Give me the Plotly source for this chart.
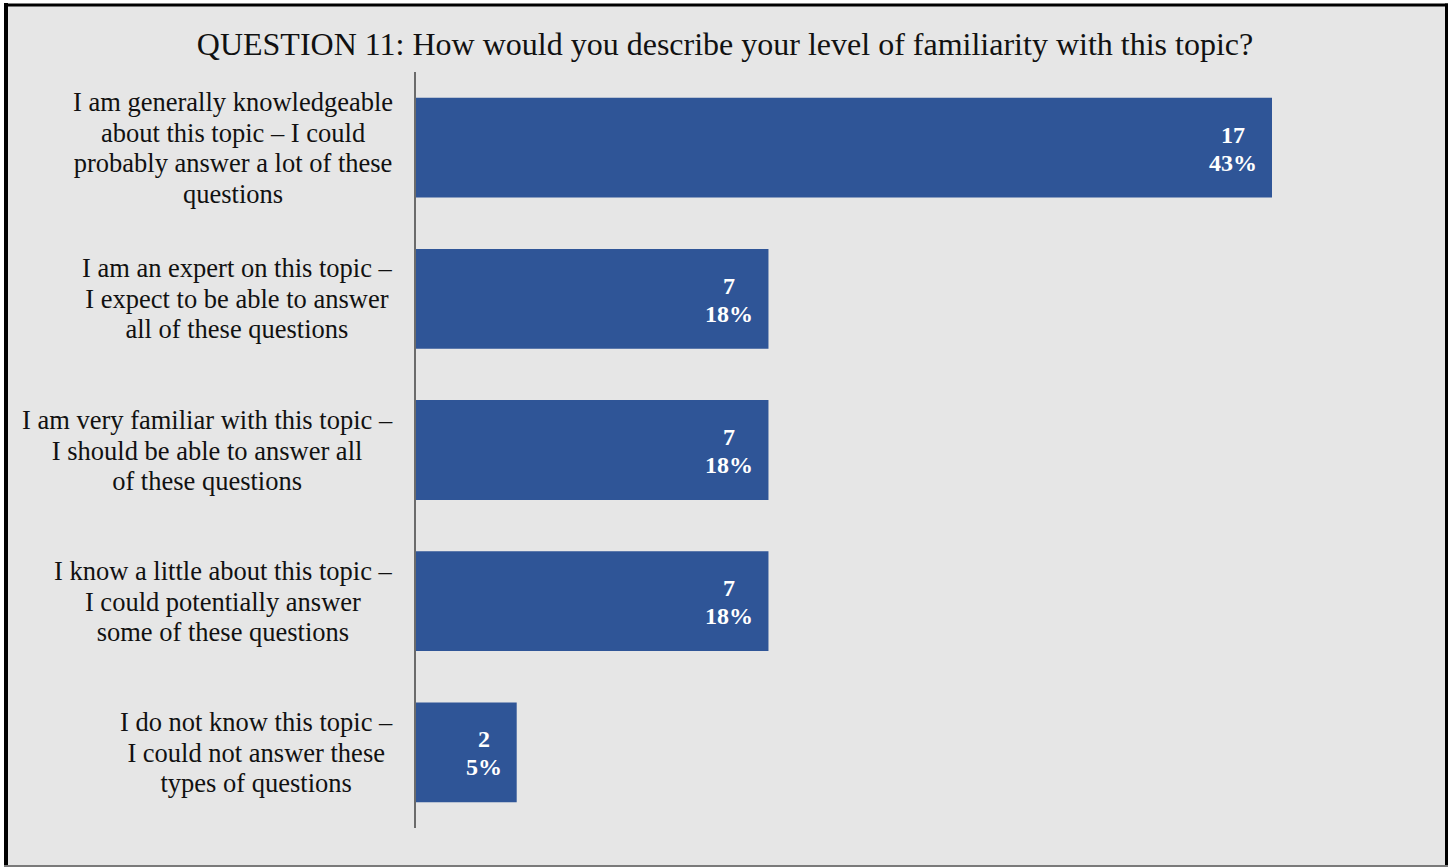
import plotly.graph_objects as go

# Survey responses, top to bottom
label_lines = [
    ["I am generally knowledgeable", "about this topic – I could", "probably answer a lot of these", "questions"],
    ["I am an expert on this topic –", "I expect to be able to answer", "all of these questions"],
    ["I am very familiar with this topic –", "I should be able to answer all", "of these questions"],
    ["I know a little about this topic –", "I could potentially answer", "some of these questions"],
    ["I do not know this topic –", "I could not answer these", "types of questions"],
]
counts = [17, 7, 7, 7, 2]
percents = ["43%", "18%", "18%", "18%", "5%"]
title_text = "QUESTION 11: How would you describe your level of familiarity with this topic?"

categories = ["<br>".join(lines) for lines in label_lines]

W, H = 1450, 867
ML, MR, MT, MB = 416, 52, 72, 39
PW, PH = W - ML - MR, H - MT - MB
SERIF = "Liberation Serif, Times New Roman, serif"
BAR_COLOR = "#2f5597"


def px_x(px):
    return (px - ML) / PW


def px_y(py):
    return (H - MB - py) / PH


fig = go.Figure()
fig.add_trace(go.Bar(
    x=counts,
    y=categories,
    orientation="h",
    width=0.66,
    marker=dict(color=BAR_COLOR, line=dict(width=0)),
    hoverinfo="skip",
))

annotations = []

# Category labels: block right-aligned next to the axis, lines centred within it
for cat, lines in zip(categories, label_lines):
    txt = "<br>".join(f"<span style='font-size:26.5px'>{ln}</span>" for ln in lines)
    annotations.append(dict(
        x=0, xref="paper", y=cat, yref="y",
        xanchor="right", yanchor="middle", xshift=-21,
        text=txt, align="center", showarrow=False,
        font=dict(family=SERIF, size=23.5, color="#111111"),
    ))

# Count and share printed inside the end of each bar
for cat, n, pct in zip(categories, counts, percents):
    txt = (f"<b><span style='font-size:24px'>{n}</span></b><br>"
           f"<b><span style='font-size:24px'>{pct}</span></b>")
    annotations.append(dict(
        x=n, xref="x", y=cat, yref="y",
        xanchor="right", yanchor="middle", xshift=-13, yshift=-1,
        text=txt, align="center", showarrow=False,
        font=dict(family=SERIF, size=21.5, color="white"),
    ))

shapes = [
    # panel background
    dict(type="rect", xref="paper", yref="paper",
         x0=px_x(6), x1=px_x(1446.5), y0=px_y(866), y1=px_y(4.5),
         fillcolor="#e6e6e6", line=dict(width=0), layer="below"),
    # frame edges
    dict(type="line", xref="paper", yref="paper",
         x0=px_x(6), x1=px_x(6), y0=px_y(867), y1=px_y(3),
         line=dict(color="black", width=4)),
    dict(type="line", xref="paper", yref="paper",
         x0=px_x(4), x1=px_x(1448), y0=px_y(5), y1=px_y(5),
         line=dict(color="black", width=3)),
    dict(type="line", xref="paper", yref="paper",
         x0=px_x(1446.5), x1=px_x(1446.5), y0=px_y(866), y1=px_y(3.5),
         line=dict(color="black", width=3)),
    dict(type="line", xref="paper", yref="paper",
         x0=px_x(4), x1=px_x(1448), y0=px_y(866), y1=px_y(866),
         line=dict(color="#7a7a7a", width=2)),
]

fig.update_layout(
    width=W, height=H,
    margin=dict(l=ML, r=MR, t=MT, b=MB, pad=0),
    paper_bgcolor="white",
    plot_bgcolor="rgba(0,0,0,0)",
    showlegend=False,
    title=dict(
        text=title_text, x=0.5, xref="container", xanchor="center",
        y=1 - 44 / H, yref="container", yanchor="middle",
        font=dict(family=SERIF, size=32, color="#111111"),
    ),
    xaxis=dict(range=[0, PW / (856 / 17)], showgrid=False, zeroline=False,
               showticklabels=False, ticks="", showline=False, fixedrange=True),
    yaxis=dict(categoryorder="array", categoryarray=categories, autorange="reversed",
               showgrid=False, zeroline=False, showticklabels=False, ticks="",
               showline=True, linecolor="#6b6b6b", linewidth=2, fixedrange=True),
    annotations=annotations,
    shapes=shapes,
)

fig.write_html("out.html")
